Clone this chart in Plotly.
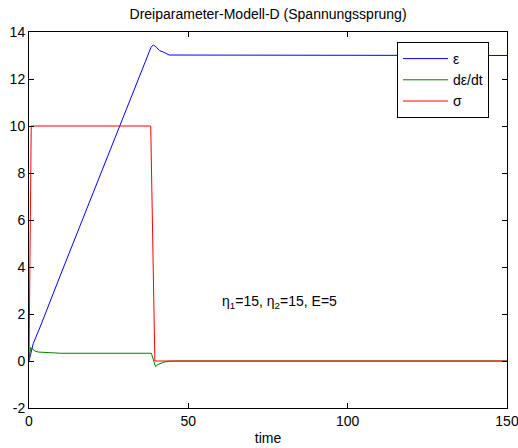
import plotly.graph_objects as go

# time samples and series values
t_eps = [0, 1.35, 3.5, 6.6, 10, 16, 22, 28.5, 34.8, 37, 38.3, 39, 40, 40.9, 42.1, 44, 150]
eps = [0, 0.75, 1.45, 2.55, 3.7, 5.75, 7.8, 10.0, 12.2, 12.95, 13.35, 13.45, 13.35, 13.21, 13.15, 13.02, 13.0]

t_deps = [0, 0.5, 1.2, 1.9, 3, 6, 10, 38.4, 39.7, 40.5, 42.3, 44, 46, 150]
deps = [0, 0.57, 0.5, 0.42, 0.38, 0.35, 0.33, 0.33, -0.24, -0.15, -0.05, -0.01, 0, 0]

t_sig = [0, 0.7, 38.2, 39.5, 150]
sig = [0, 10, 10, 0, 0]

names = ["ε", "dε/dt", "σ"]
colors = ["rgb(0,0,255)", "rgb(0,128,0)", "rgb(255,0,0)"]

x_ticks = [0, 50, 100, 150]
y_ticks = [-2, 0, 2, 4, 6, 8, 10, 12, 14]

FONT = "Liberation Sans, Arial, Helvetica, sans-serif"
FS = 14

fig = go.Figure()
for tt, vv, nm, c in zip([t_eps, t_deps, t_sig], [eps, deps, sig], names, colors):
    fig.add_trace(go.Scatter(x=tt, y=vv, mode="lines", name=nm,
                             line=dict(color=c, width=1)))

axis_common = dict(showline=True, linecolor="black", linewidth=1, mirror="ticks",
                   ticks="inside", ticklen=5, tickcolor="black", showgrid=False,
                   zeroline=False, automargin=False, ticklabeloverflow="allow",
                   tickfont=dict(family=FONT, size=FS, color="black"))

fig.update_xaxes(range=[0, 150], tickvals=x_ticks, ticktext=[str(v) for v in x_ticks],
                 title=dict(text="time", font=dict(family=FONT, size=FS, color="black"), standoff=5),
                 **axis_common)
fig.update_yaxes(range=[-2, 14], tickvals=y_ticks, ticktext=[str(v) for v in y_ticks],
                 **axis_common)

fig.add_annotation(x=60, y=2.5, xref="x", yref="y", xanchor="left", yanchor="middle",
                   text="η<sub>1</sub>=15, η<sub>2</sub>=15, E=5", showarrow=False,
                   font=dict(family=FONT, size=FS, color="black"))

fig.update_layout(
    width=518, height=448,
    margin=dict(l=29, r=11, t=32, b=40),
    paper_bgcolor="white", plot_bgcolor="white",
    title=dict(text="Dreiparameter-Modell-D (Spannungssprung)", x=0.5175, xanchor="center",
               y=1 - 14 / 448, yanchor="middle", yref="container",
               font=dict(family=FONT, size=FS, color="black")),
    legend=dict(x=(397 - 29) / 478, y=(408 - 80) / 376, xanchor="left", yanchor="middle",
                bordercolor="black", borderwidth=1, bgcolor="white",
                itemwidth=45, tracegroupgap=0,
                font=dict(family=FONT, size=FS, color="black")),
    showlegend=True,
)

fig.write_html("out.html", config={"displayModeBar": False},
               post_script="document.body.style.margin='0';")
